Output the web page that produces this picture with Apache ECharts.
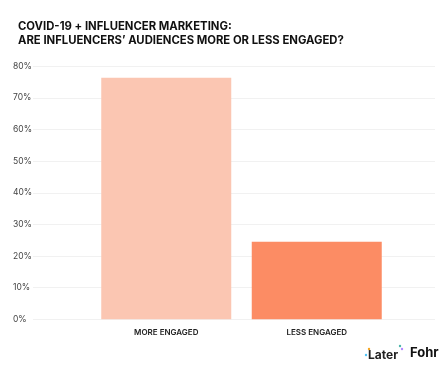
<!DOCTYPE html>
<html>
<head>
<meta charset="utf-8">
<script src="https://cdn.jsdelivr.net/npm/echarts@6/dist/echarts.min.js"></script>
<style>html,body{margin:0;padding:0;background:#fff}#c{width:445px;height:368px}</style>
</head>
<body>
<div id="c"></div>
<script>
const categories = ['MORE ENGAGED', 'LESS ENGAGED'];
const values = [76.4, 24.5];
const barColors = ['#FBC6B2', '#FC8C64'];
const yTicks = { min: 0, max: 80, interval: 10 };
const titleLines = ['COVID-19 + INFLUENCER MARKETING:', 'ARE INFLUENCERS\u2019 AUDIENCES MORE OR LESS ENGAGED?'];

const chart = echarts.init(document.getElementById('c'));
const TOP = 66.3, BOTTOM = 368 - 319.3;
const font = 'Inter, "Noto Sans", sans-serif';
chart.setOption({
  animation: false,
  backgroundColor: '#fff',
  title: {
    text: titleLines.join('\n'),
    left: 13, top: 15,
    textStyle: { fontFamily: font, fontSize: 11.3, fontWeight: 'bold', color: '#111', lineHeight: 14 }
  },
  grid: [
    { left: 91, right: 53, top: TOP, bottom: BOTTOM },
    { left: 33, right: 10, top: TOP, bottom: BOTTOM }
  ],
  xAxis: [
    { type: 'category', gridIndex: 0, data: categories,
      axisLine: { show: false }, axisTick: { show: false },
      axisLabel: { margin: 9, fontFamily: font, fontSize: 8, fontWeight: 600, color: '#222' } },
    { type: 'category', gridIndex: 1, data: [''], show: false }
  ],
  yAxis: [
    { type: 'value', gridIndex: 0, min: yTicks.min, max: yTicks.max, interval: yTicks.interval, show: false, splitLine: { show: false } },
    { type: 'value', gridIndex: 1, min: yTicks.min, max: yTicks.max, interval: yTicks.interval,
      axisLine: { show: false }, axisTick: { show: false },
      axisLabel: { formatter: '{value}%', align: 'left', margin: 20, fontFamily: font, fontSize: 8.5, color: '#444' },
      splitLine: { lineStyle: { color: '#F1F1F1', width: 1 } } }
  ],
  series: [{
    type: 'bar', xAxisIndex: 0, yAxisIndex: 0, barWidth: 130, z: 3,
    data: values.map((v, i) => ({ value: v, itemStyle: { color: barColors[i] } }))
  }],
  graphic: [
    { type: 'text', left: 368, top: 349, style: { text: 'Later', font: 'bold 12px ' + font, fill: '#222' } },
    { type: 'circle', shape: { cx: 369, cy: 349, r: 1.2 }, style: { fill: '#F5A623' } },
    { type: 'circle', shape: { cx: 366, cy: 355, r: 1.2 }, style: { fill: '#4FC3F7' } },
    { type: 'circle', shape: { cx: 402, cy: 349, r: 1.2 }, style: { fill: '#B388FF' } },
    { type: 'circle', shape: { cx: 400, cy: 346, r: 1.2 }, style: { fill: '#4DB6AC' } },
    { type: 'text', left: 410, top: 347, style: { text: 'Fohr', font: 'bold 13px ' + font, fill: '#111' } }
  ]
});
</script>
</body>
</html>
